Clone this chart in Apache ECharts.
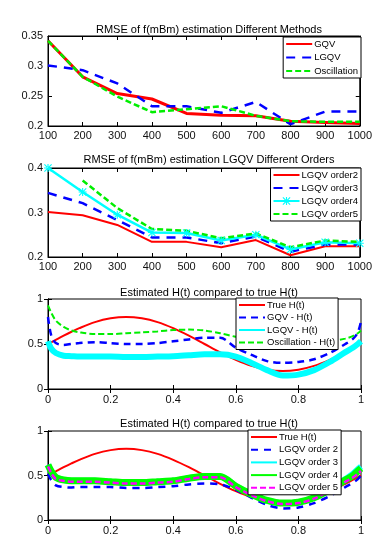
<!DOCTYPE html>
<html><head><meta charset="utf-8">
<script src="https://cdn.jsdelivr.net/npm/echarts@6/dist/echarts.min.js"></script>
<style>html,body{margin:0;padding:0;background:#fff}#c{width:375px;height:548px}</style>
</head><body><div id="c"></div>
<script>
// ---------- data ----------
const N = [100, 200, 300, 400, 500, 600, 700, 800, 900, 1000];
const gqv  = [0.342, 0.282, 0.254, 0.245, 0.221, 0.218, 0.217, 0.208, 0.206, 0.204];
const lgqv = [0.301, 0.293, 0.271, 0.233, 0.233, 0.222, 0.240, 0.203, 0.224, 0.224];
const osc  = [0.342, 0.282, 0.249, 0.223, 0.228, 0.233, 0.217, 0.208, 0.207, 0.207];

const ord2 = [0.301, 0.294, 0.272, 0.234, 0.234, 0.222, 0.238, 0.204, 0.224, 0.224];
const ord3 = [0.344, 0.321, 0.283, 0.244, 0.244, 0.231, 0.246, 0.212, 0.228, 0.228];
const ord4 = [0.400, 0.346, 0.295, 0.255, 0.254, 0.237, 0.250, 0.217, 0.233, 0.231];
const ord5 = [null, 0.372, 0.310, 0.263, 0.259, 0.242, 0.253, 0.222, 0.237, 0.234];

const T = [0, 0.01, 0.025, 0.05, 0.075, 0.1, 0.15, 0.2, 0.25, 0.3, 0.35, 0.4, 0.45, 0.5,
           0.55, 0.6, 0.65, 0.7, 0.75, 0.8, 0.85, 0.9, 0.95, 0.975, 0.99, 1];
const trueH = [0.5, 0.519, 0.547, 0.593, 0.636, 0.676, 0.743, 0.785, 0.8, 0.785, 0.743, 0.676, 0.593, 0.5,
               0.407, 0.324, 0.257, 0.215, 0.2, 0.215, 0.257, 0.324, 0.407, 0.453, 0.481, 0.5];
const gqvH  = [0.8, 0.6, 0.51, 0.49, 0.5, 0.51, 0.52, 0.51, 0.5, 0.5, 0.51, 0.53, 0.55, 0.57,
               0.57, 0.46, 0.38, 0.31, 0.29, 0.3, 0.33, 0.4, 0.5, 0.56, 0.63, 0.75];
const lgqvH = [0.53, 0.45, 0.4, 0.37, 0.365, 0.36, 0.36, 0.36, 0.355, 0.355, 0.36, 0.365, 0.375, 0.385,
               0.385, 0.36, 0.29, 0.21, 0.15, 0.16, 0.21, 0.3, 0.41, 0.46, 0.5, 0.53];
const oscH  = [0.93, 0.85, 0.76, 0.69, 0.65, 0.63, 0.61, 0.61, 0.62, 0.63, 0.64, 0.655, 0.66, 0.65,
               0.62, 0.58, 0.55, 0.53, 0.52, 0.51, 0.51, 0.53, 0.56, 0.59, 0.62, 0.65];

const o2H = [0.52, 0.45, 0.39, 0.37, 0.365, 0.37, 0.37, 0.37, 0.36, 0.36, 0.37, 0.38, 0.4, 0.41,
             0.4, 0.34, 0.25, 0.17, 0.13, 0.14, 0.19, 0.27, 0.37, 0.42, 0.46, 0.5];
const o3H = [0.62, 0.55, 0.48, 0.45, 0.44, 0.44, 0.44, 0.43, 0.42, 0.42, 0.43, 0.44, 0.47, 0.49,
             0.49, 0.38, 0.29, 0.22, 0.19, 0.2, 0.25, 0.34, 0.46, 0.52, 0.57, 0.6];
const o4H = [0.62, 0.55, 0.48, 0.45, 0.44, 0.44, 0.44, 0.43, 0.42, 0.42, 0.43, 0.44, 0.47, 0.49,
             0.49, 0.38, 0.29, 0.22, 0.19, 0.2, 0.25, 0.34, 0.45, 0.5, 0.55, 0.58];
const o5H = [0.6, 0.53, 0.46, 0.44, 0.43, 0.43, 0.43, 0.42, 0.41, 0.41, 0.42, 0.43, 0.46, 0.48,
             0.48, 0.37, 0.28, 0.21, 0.18, 0.19, 0.24, 0.33, 0.43, 0.48, 0.52, 0.55];

const titles = ['RMSE of f(mBm) estimation Different Methods',
                'RMSE of f(mBm) estimation LGQV Different Orders',
                'Estimated H(t) compared to true H(t)',
                'Estimated H(t) compared to true H(t)'];

// ---------- helpers ----------
const pairs = (xs, ys) => xs.map((x, i) => [x, ys[i]]);
const FONT = '"Liberation Sans", Arial, sans-serif';
const grids = [
  {left: 48, top: 36, width: 313, height: 90},
  {left: 48, top: 168, width: 313, height: 89},
  {left: 48, top: 299, width: 313, height: 90},
  {left: 48, top: 431, width: 313, height: 89}
];
const ranges = [
  {x: [100, 1000, 100], y: [0.2, 0.35, 0.05]},
  {x: [100, 1000, 100], y: [0.2, 0.4, 0.1]},
  {x: [0, 1, 0.2], y: [0, 1, 0.5]},
  {x: [0, 1, 0.2], y: [0, 1, 0.5]}
];
const xMargins = [4, 4, 5, 5];
const fmt = v => String(Math.round(v * 1000) / 1000);
const xAxes = [], yAxes = [];
ranges.forEach((r, g) => {
  const common = {
    type: 'value', gridIndex: g,
    axisLine: {show: true, lineStyle: {color: '#000', width: 1}},
    axisTick: {show: true, inside: true, length: 4, lineStyle: {color: '#000'}},
    splitLine: {show: false}
  };
  xAxes.push(Object.assign({}, common, {position: 'bottom', min: r.x[0], max: r.x[1], interval: r.x[2],
    axisLabel: {fontFamily: FONT, fontSize: 11, color: '#111', margin: xMargins[g], formatter: fmt}}));
  xAxes.push(Object.assign({}, common, {position: 'top', min: r.x[0], max: r.x[1], interval: r.x[2],
    axisLabel: {show: false}}));
  yAxes.push(Object.assign({}, common, {position: 'left', min: r.y[0], max: r.y[1], interval: r.y[2],
    axisLabel: {fontFamily: FONT, fontSize: 11, color: '#111', margin: 5, formatter: fmt}}));
  yAxes.push(Object.assign({}, common, {position: 'right', min: r.y[0], max: r.y[1], interval: r.y[2],
    axisLabel: {show: false}}));
});

const star = 'path://M4.3,0 H5.7 V10 H4.3 Z M0,4.3 H10 V5.7 H0 Z M1,0 L0,1 L9,10 L10,9 Z M9,0 L10,1 L1,10 L0,9 Z';

function line(name, g, xs, ys, color, width, type, extra) {
  return Object.assign({
    name, type: 'line', xAxisIndex: 2 * g, yAxisIndex: 2 * g,
    data: pairs(xs, ys), symbol: 'none', showSymbol: false, connectNulls: false,
    lineStyle: {color, width, type: type || 'solid'}, itemStyle: {color},
    animation: false, silent: true
  }, extra || {});
}

const series = [
  line('GQV', 0, N, gqv, '#ff0000', 3),
  line('LGQV', 0, N, lgqv, '#0000ff', 2.5, [9, 7]),
  line('Oscillation', 0, N, osc, '#00ee00', 2.5, [6, 3]),

  line('LGQV order2', 1, N, ord2, '#ff0000', 2),
  line('LGQV order3', 1, N, ord3, '#0000ff', 2.5, [9, 7]),
  line('LGQV order4', 1, N, ord4, '#00ffff', 2.5, 'solid', {symbol: star, showSymbol: true, symbolSize: 8}),
  line('LGQV order5', 1, N, ord5, '#00ee00', 2.5, [6, 3]),

  line('True H(t)', 2, T, trueH, '#ff0000', 2, 'solid', {smooth: 0.3}),
  line('GQV - H(t)', 2, T, gqvH, '#0000ff', 2.5, [7, 5], {smooth: 0.3}),
  line('LGQV - H(t)', 2, T, lgqvH, '#00ffff', 6, 'solid', {smooth: 0.3}),
  line('Oscillation - H(t)', 2, T, oscH, '#00ee00', 2, [6, 3], {smooth: 0.3}),

  line('True H(t)', 3, T, trueH, '#ff0000', 2, 'solid', {smooth: 0.3}),
  line('LGQV order 2', 3, T, o2H, '#0000ff', 2.5, [7, 6], {smooth: 0.3}),
  line('LGQV order 3', 3, T, o3H, '#00ffff', 6, 'solid', {smooth: 0.3}),
  line('LGQV order 4', 3, T, o4H, '#00ff00', 7, 'solid', {smooth: 0.3}),
  line('LGQV order 5', 3, T, o5H, '#ff00ff', 2.5, [6, 3], {smooth: 0.3})
];

function legend(names, pos, gap, shown) {
  return Object.assign({
    data: names.map(n => shown && shown.indexOf(n) >= 0 ? {name: n, itemStyle: {opacity: 1}} : {name: n}),
    orient: 'vertical', selectedMode: false,
    backgroundColor: '#fff', borderColor: '#000', borderWidth: 1, borderRadius: 0,
    padding: [2, 3, 2, 2], itemWidth: 26, itemHeight: 10, itemGap: gap,
    itemStyle: {opacity: 0},
    textStyle: {fontFamily: FONT, fontSize: 9.5, color: '#000', padding: [0, 0, 0, -3]}
  }, pos);
}

const option = {
  backgroundColor: '#fff',
  animation: false,
  title: titles.map((t, i) => ({
    text: t, left: 204, textAlign: 'center', top: [19, 149, 282, 413][i],
    textStyle: {fontFamily: FONT, fontSize: 11, fontWeight: 'normal', color: '#000'}
  })),
  grid: grids.map(g => Object.assign({show: true, borderColor: '#000', borderWidth: 1, backgroundColor: '#fff'}, g)),
  xAxis: xAxes,
  yAxis: yAxes,
  legend: [
    legend(['GQV', 'LGQV', 'Oscillation'], {right: 14, top: 37}, 3.5),
    legend(['LGQV order2', 'LGQV order3', 'LGQV order4', 'LGQV order5'], {right: 14, top: 168}, 3, ['LGQV order4']),
    legend(['True H(t)', 'GQV - H(t)', 'LGQV - H(t)', 'Oscillation - H(t)'], {left: 236, top: 298}, 2.5),
    legend(['True H(t)', 'LGQV order 2', 'LGQV order 3', 'LGQV order 4', 'LGQV order 5'], {left: 248, top: 430}, 2.7)
  ],
  series
};
const chart = echarts.init(document.getElementById('c'), null, {renderer: 'canvas'});
chart.setOption(option);
</script></body></html>
